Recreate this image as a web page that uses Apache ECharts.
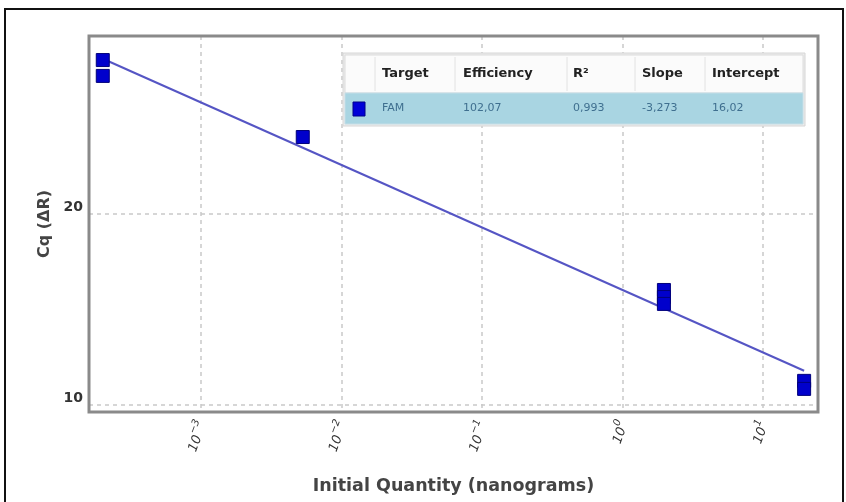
<!DOCTYPE html>
<html>
<head>
<meta charset="utf-8">
<script src="https://cdn.jsdelivr.net/npm/echarts@6/dist/echarts.min.js"></script>
<style>
  html, body { margin: 0; padding: 0; background: #ffffff; }
  #chart { width: 846px; height: 502px; }
</style>
</head>
<body>
<div id="chart"></div>
<script>
// Standard curve: Cq versus initial quantity (ng), log10 x axis
const quantities = [0.0002, 0.0002, 0.0053, 1.97, 1.97, 1.97, 19.6, 19.6];
const cqValues   = [28.06, 27.23, 24.03, 16.02, 15.65, 15.29, 11.26, 10.84];

// Fit summary shown in the table (decimal commas as printed)
const tableHeaders = ['Target', 'Efficiency', 'R²', 'Slope', 'Intercept'];
const fitTarget = 'FAM';
const fitEfficiency = '102,07';
const fitR2 = '0,993';
const fitSlope = -3.273;
const fitIntercept = 16.02;

const yTickLabels = ['10', '20'];

function toComma(v, digits) {
  return v.toFixed(digits).replace('.', ',');
}
// "10" with the decade exponent raised as a superscript
function powerLabel(v) {
  const e = Math.round(Math.log10(v));
  return '{b|10}{s|' + (e < 0 ? '\u2212' + (-e) : e) + '}';
}

// Regression line drawn from the printed slope and intercept
const qMin = Math.min(...quantities);
const qMax = Math.max(...quantities);
const fitLine = [qMin, qMax].map(q => [q, fitIntercept + fitSlope * Math.log10(q)]);

const scatterData = quantities.map((q, i) => [q, cqValues[i]]);

const FONT = 'DejaVu Sans';
const chart = echarts.init(document.getElementById('chart'), null, { renderer: 'canvas' });

// Plot frame (matches grid below)
const gL = 89, gT = 36, gR = 818, gB = 412;

// Table geometry
const tX = 345, tY = 55, tW = 458, headH = 38, rowH = 31;
const colX = [382, 463, 573, 642, 712];
const sepX = [375, 455, 567, 635, 705];
const rowValues = [fitTarget, fitEfficiency, fitR2, toComma(fitSlope, 3), toComma(fitIntercept, 2)];

const graphics = [
  // outer frame
  { type: 'polyline', z: 100, shape: { points: [[5, 520], [5, 9], [843, 9], [843, 520]] },
    style: { stroke: '#111', lineWidth: 2, fill: null } },
  // plot frame
  { type: 'rect', z: 99, shape: { x: gL, y: gT, width: gR - gL, height: gB - gT },
    style: { fill: null, stroke: '#8a8a8a', lineWidth: 3 } },
  // table outline + box
  { type: 'rect', z: 100, shape: { x: tX - 2, y: tY - 2, width: tW + 4, height: headH + rowH + 4 },
    style: { fill: '#ececec', stroke: '#d6d6d6', lineWidth: 1 } },
  { type: 'rect', z: 101, shape: { x: tX, y: tY, width: tW, height: headH },
    style: { fill: '#fbfbfb', stroke: '#dcdcdc', lineWidth: 1 } },
  { type: 'rect', z: 101, shape: { x: tX, y: tY + headH, width: tW, height: rowH },
    style: { fill: '#a9d5e2', stroke: '#c4dde6', lineWidth: 1 } },
  { type: 'rect', z: 102, shape: { x: 353, y: tY + headH + 9, width: 12, height: 14 },
    style: { fill: '#0000d8', stroke: '#00008a', lineWidth: 1 } }
];
sepX.forEach(x => graphics.push({
  type: 'line', z: 102, shape: { x1: x, y1: tY + 2, x2: x, y2: tY + headH - 2 },
  style: { stroke: '#e2e2e2', lineWidth: 1 }
}));
tableHeaders.forEach((h, i) => graphics.push({
  type: 'text', z: 103, x: colX[i], y: tY + headH / 2,
  style: { text: h, fill: '#222', font: 'bold 13px "' + FONT + '"', verticalAlign: 'middle', align: 'left' }
}));
rowValues.forEach((v, i) => graphics.push({
  type: 'text', z: 103, x: colX[i], y: tY + headH + rowH / 2,
  style: { text: v, fill: '#3f6f8f', font: '11px "' + FONT + '"', verticalAlign: 'middle', align: 'left' }
}));

const option = {
  backgroundColor: '#ffffff',
  animation: false,
  grid: {
    left: gL, top: gT, right: 846 - gR, bottom: 502 - gB,
    show: true, borderWidth: 0, backgroundColor: '#ffffff'
  },
  xAxis: {
    type: 'log',
    logBase: 10,
    min: Math.pow(10, -3.797),
    max: Math.pow(10, 1.391),
    name: 'Initial Quantity (nanograms)',
    nameLocation: 'middle',
    nameGap: 65,
    nameTextStyle: { fontFamily: FONT, fontSize: 17.5, fontWeight: 'bold', color: '#444' },
    axisLine: { show: false },
    axisTick: { show: false },
    axisLabel: {
      rotate: 70, margin: 9, color: '#333',
      showMinLabel: false, showMaxLabel: false,
      formatter: v => powerLabel(v),
      rich: {
        b: { fontFamily: FONT, fontSize: 13, fontStyle: 'italic', color: '#333', verticalAlign: 'bottom', lineHeight: 18 },
        s: { fontFamily: FONT, fontSize: 10, fontStyle: 'italic', color: '#333', verticalAlign: 'top', lineHeight: 12 }
      }
    },
    splitLine: { show: true, showMinLine: false, showMaxLine: false,
      lineStyle: { color: '#c9c9c9', type: [4, 4], width: 1.5 } }
  },
  yAxis: {
    type: 'value',
    min: 9.63,
    max: 29.32,
    splitNumber: 2,
    name: 'Cq (ΔR)',
    nameLocation: 'middle',
    nameGap: 36,
    nameTextStyle: { fontFamily: FONT, fontSize: 16, fontWeight: 'bold', color: '#444' },
    axisLine: { show: false },
    axisTick: { show: false },
    axisLabel: {
      margin: 6, fontFamily: FONT, fontSize: 14, fontWeight: 'bold', color: '#333',
      verticalAlign: 'bottom',
      showMinLabel: false, showMaxLabel: false,
      formatter: v => (yTickLabels.indexOf(String(v)) >= 0 ? String(v) : '')
    },
    splitLine: { show: true, showMinLine: false, showMaxLine: false,
      lineStyle: { color: '#c9c9c9', type: [4, 4], width: 1.5 } }
  },
  series: [
    {
      type: 'line',
      data: fitLine,
      symbol: 'none',
      lineStyle: { color: '#5555c4', width: 2 },
      z: 3
    },
    {
      type: 'scatter',
      data: scatterData,
      symbol: 'rect',
      symbolSize: 13,
      itemStyle: { color: '#0000cc', borderColor: '#00007a', borderWidth: 1, opacity: 1 },
      z: 4
    }
  ],
  graphic: graphics
};
chart.setOption(option);
</script>
</body>
</html>
